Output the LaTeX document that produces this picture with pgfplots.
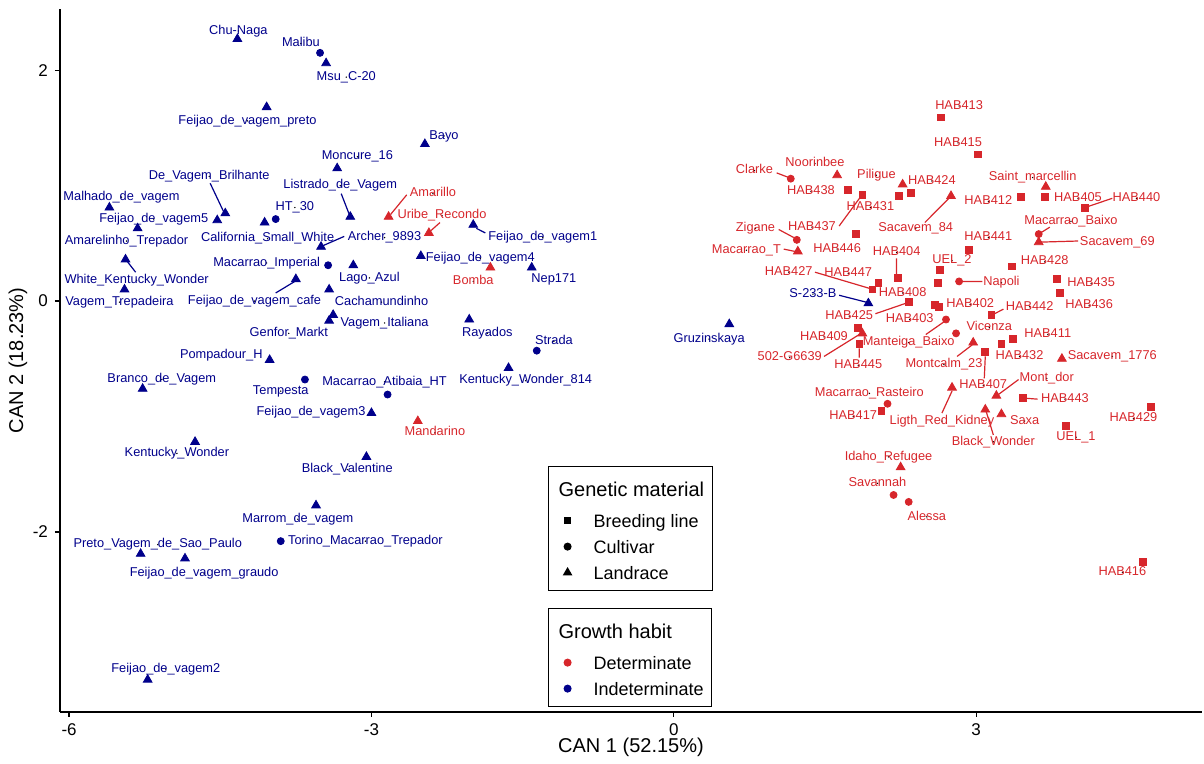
\documentclass[border=0pt]{standalone}
\usepackage{fontspec}
\setmainfont{Liberation Sans}
\usepackage{pgfplots}
\pgfplotsset{compat=1.18}
\definecolor{cred}{RGB}{215,38,43}
\definecolor{cblue}{RGB}{0,0,139}
\pgfplotsset{
  labelstyle/.style={only marks, mark=*, mark size=0.1pt, mark options={draw=none, fill=none},
    nodes near coords, point meta=explicit symbolic,
    nodes near coords style={anchor=center, inner sep=0pt, font=\fontsize{6.4}{7.5}\selectfont,
      text=#1, text height=4.6pt, text depth=1.4pt}},
  leaderstyle/.style={no markers, #1, line width=0.6pt, unbounded coords=jump},
  legstyle/.style={legend cell align=left,
    legend style={at={(0.4273,#1)}, anchor=north west, draw=black, line width=0.6pt, fill=white,
      inner xsep=2pt, inner ysep=2.5pt, font=\fontsize{9}{11}\selectfont,
      nodes={inner xsep=2pt, inner ysep=0pt, minimum height=13pt, text height=6.5pt, text depth=0pt},
      column sep=0pt, row sep=0pt}},
}
\begin{document}
\begin{tikzpicture}
\begin{axis}[
  width=571pt, height=351.5pt, scale only axis,
  xmin=-6.09, xmax=5.24, ymin=-3.56, ymax=2.53,
  axis lines=left, axis line style={-, line width=0.7pt, black},
  xtick={-6,-3,0,3}, ytick={-2,0,2}, minor tick num=0,
  tick align=outside, major tick length=2.5pt,
  every tick/.style={black, line width=0.6pt},
  ticklabel style={font=\fontsize{8.5}{10}\selectfont, text=black},
  /pgf/number format/assume math mode=true,
  xlabel={CAN 1 (52.15\%)}, ylabel={CAN 2 (18.23\%)},
  every axis x label/.style={at={(axis description cs:0.5,-0.0505)}, anchor=center, font=\fontsize{10}{12}\selectfont},
  every axis y label/.style={at={(axis description cs:-0.0368,0.5)}, anchor=center, rotate=90, font=\fontsize{10}{12}\selectfont},
  clip=false,
  legstyle=0.3499,
]
% legend: Genetic material
\addlegendimage{empty legend}
\addlegendentry[font=\fontsize{10}{12}\selectfont, minimum height=18pt, text height=7.2pt]{\hspace*{-17.5pt}Genetic material}
\addlegendimage{legend image code/.code={\path[draw=none,fill=none] (0pt,0pt) (18.5pt,0pt);\draw[black,fill=black,solid] plot[only marks, mark=square*, mark size=1.6pt] coordinates {(7.5pt,0pt)};}}
\addlegendentry{Breeding line}
\addlegendimage{legend image code/.code={\path[draw=none,fill=none] (0pt,0pt) (18.5pt,0pt);\draw[black,fill=black,solid] plot[only marks, mark=*, mark size=1.7pt] coordinates {(7.5pt,0pt)};}}
\addlegendentry{Cultivar}
\addlegendimage{legend image code/.code={\path[draw=none,fill=none] (0pt,0pt) (18.5pt,0pt);\draw[black,fill=black,solid] plot[only marks, mark=triangle*, mark size=2.2pt] coordinates {(7.5pt,0pt)};}}
\addlegendentry{Landrace}

% blue landrace
\addplot[only marks, mark=triangle*, mark size=2.5pt, color=cblue] table {
x y
-4.33 2.27
-3.45 2.06
-4.04 1.68
-2.47 1.36
-3.34 1.15
-4.45 0.76
-5.60 0.81
-4.53 0.70
-5.32 0.63
-4.06 0.68
-3.21 0.73
-3.50 0.47
-1.99 0.66
-5.44 0.36
-2.51 0.39
-3.18 0.31
-1.41 0.29
-5.45 0.10
-3.75 0.19
-3.42 0.10
-3.38 -0.12
-3.42 -0.17
-2.03 -0.16
-4.01 -0.51
-1.64 -0.58
-5.27 -0.76
-3.00 -0.97
-4.75 -1.22
-3.05 -1.35
-3.55 -1.77
-5.29 -2.19
-4.85 -2.23
-5.22 -3.28
1.93 -0.02
0.55 -0.20
};
% blue cultivar
\addplot[only marks, mark=*, mark size=1.75pt, color=cblue] table {
x y
-3.51 2.15
-3.95 0.71
-3.43 0.31
-1.36 -0.43
-3.66 -0.68
-2.84 -0.81
-3.90 -2.08
};
% red landrace
\addplot[only marks, mark=triangle*, mark size=2.5pt, color=cred] table {
x y
-2.83 0.73
-2.43 0.59
-1.82 0.29
-2.54 -1.04
1.62 1.09
2.27 1.01
3.69 0.99
2.75 0.91
3.62 0.51
1.23 0.43
1.87 -0.28
2.97 -0.36
3.85 -0.50
3.20 -0.82
2.76 -0.75
3.09 -0.94
3.25 -0.98
2.25 -1.44
};
% red cultivar
\addplot[only marks, mark=*, mark size=1.75pt, color=cred] table {
x y
1.16 1.06
1.22 0.53
2.83 0.17
3.62 0.58
2.70 -0.16
2.80 -0.28
2.12 -0.89
2.18 -1.68
2.33 -1.74
};
% red breeding lines
\addplot[only marks, mark=square*, mark size=1.7pt, color=cred] table {
x y
2.65 1.59
3.02 1.27
1.73 0.96
1.87 0.92
2.23 0.91
2.35 0.94
3.44 0.90
3.68 0.90
4.08 0.81
1.81 0.58
2.93 0.44
2.64 0.27
2.22 0.20
3.35 0.30
2.03 0.16
1.97 0.10
2.62 0.16
3.80 0.19
3.83 0.07
2.33 -0.01
2.59 -0.03
2.63 -0.05
3.15 -0.12
1.83 -0.23
1.84 -0.37
3.36 -0.33
3.25 -0.37
3.09 -0.44
3.46 -0.84
2.06 -0.95
4.73 -0.92
3.89 -1.08
4.65 -2.26
};
% leader lines
\addplot[leaderstyle=cblue] table {
x y
-4.60 1.02
-4.47 0.78
nan nan
-3.30 0.93
-3.22 0.75
nan nan
-3.27 0.56
-3.48 0.48
nan nan
-1.96 0.63
-1.87 0.59
nan nan
-5.34 0.25
-5.42 0.34
nan nan
-3.95 0.07
-3.76 0.17
nan nan
1.64 0.05
1.91 -0.01
};
\addplot[leaderstyle=cred] table {
x y
-2.65 0.92
-2.81 0.75
nan nan
-2.32 0.68
-2.41 0.61
nan nan
1.02 1.11
1.14 1.07
nan nan
1.04 0.62
1.19 0.55
nan nan
1.09 0.45
1.20 0.43
nan nan
1.64 0.65
1.85 0.90
nan nan
2.49 0.68
2.73 0.89
nan nan
2.21 0.37
2.21 0.23
nan nan
1.40 0.25
1.94 0.11
nan nan
2.00 -0.11
2.30 -0.02
nan nan
1.49 -0.48
1.84 -0.29
nan nan
1.84 -0.49
1.84 -0.41
nan nan
2.50 -0.29
2.68 -0.18
nan nan
2.81 -0.48
2.96 -0.38
nan nan
3.08 -0.67
3.09 -0.48
nan nan
3.42 -0.68
3.22 -0.81
nan nan
2.66 -0.97
2.76 -0.78
nan nan
3.17 -1.16
3.10 -0.96
nan nan
3.46 -0.84
3.61 -0.85
nan nan
2.83 0.17
3.06 0.17
nan nan
3.16 -0.12
3.27 -0.07
nan nan
3.62 0.58
3.73 0.64
nan nan
3.62 0.51
4.01 0.52
nan nan
4.08 0.81
4.35 0.89
};
% labels
\addplot[labelstyle=cblue] table[meta=label] {
x y label
-4.32 2.34 Chu-Naga
-3.70 2.23 Malibu
-3.25 1.94 Msu\_C-20
-4.23 1.56 Feijao\_de\_vagem\_preto
-2.28 1.43 Bayo
-3.14 1.25 Moncure\_16
-4.61 1.08 De\_Vagem\_Brilhante
-5.48 0.90 Malhado\_de\_vagem
-5.16 0.71 Feijao\_de\_vagem5
-3.76 0.81 HT\_30
-4.03 0.54 California\_Small\_White
-3.31 1.00 Listrado\_de\_Vagem
-2.87 0.55 Archer\_9893
-1.30 0.55 Feijao\_de\_vagem1
-5.43 0.52 Amarelinho\_Trepador
-5.33 0.18 White\_Kentucky\_Wonder
-5.50 -0.01 Vagem\_Trepadeira
-4.04 0.33 Macarrao\_Imperial
-1.92 0.37 Feijao\_de\_vagem4
-3.02 0.20 Lago\_Azul
-1.19 0.19 Nep171
-4.16 0.00 Feijao\_de\_vagem\_cafe
-2.90 -0.01 Cachamundinho
-2.87 -0.19 Vagem\_Italiana
-3.82 -0.28 Genfor\_Markt
-1.85 -0.28 Rayados
-1.19 -0.35 Strada
-4.49 -0.47 Pompadour\_H
-1.47 -0.69 Kentucky\_Wonder\_814
-2.87 -0.70 Macarrao\_Atibaia\_HT
-3.90 -0.78 Tempesta
-5.08 -0.68 Branco\_de\_Vagem
-3.60 -0.96 Feijao\_de\_vagem3
-4.93 -1.32 Kentucky\_Wonder
-3.24 -1.46 Black\_Valentine
-3.73 -1.89 Marrom\_de\_vagem
-3.06 -2.08 Torino\_Macarrao\_Trepador
-5.12 -2.11 Preto\_Vagem\_de\_Sao\_Paulo
-4.66 -2.36 Feijao\_de\_vagem\_graudo
-5.04 -3.19 Feijao\_de\_vagem2
0.35 -0.33 Gruzinskaya
1.38 0.06 S-233-B
};
\addplot[labelstyle=cred] table[meta=label] {
x y label
-2.39 0.93 Amarillo
-2.30 0.74 Uribe\_Recondo
-1.99 0.17 Bomba
-2.37 -1.14 Mandarino
2.83 1.69 HAB413
2.82 1.37 HAB415
0.80 1.13 Clarke
1.40 1.19 Noorinbee
2.01 1.09 Piligue
2.56 1.04 HAB424
3.56 1.07 Saint\_marcellin
1.36 0.95 HAB438
1.95 0.81 HAB431
3.12 0.86 HAB412
4.01 0.89 HAB405
4.59 0.89 HAB440
2.40 0.63 Sacavem\_84
3.94 0.69 Macarrao\_Baixo
0.81 0.63 Zigane
1.37 0.64 HAB437
3.12 0.55 HAB441
4.40 0.51 Sacavem\_69
0.72 0.44 Macarrao\_T
1.62 0.45 HAB446
2.21 0.42 HAB404
2.76 0.35 UEL\_2
3.68 0.34 HAB428
1.14 0.25 HAB427
1.73 0.24 HAB447
3.25 0.16 Napoli
4.14 0.15 HAB435
2.27 0.07 HAB408
2.94 -0.03 HAB402
3.53 -0.05 HAB442
4.12 -0.04 HAB436
1.74 -0.13 HAB425
2.34 -0.16 HAB403
1.49 -0.31 HAB409
2.33 -0.36 Manteiga\_Baixo
3.13 -0.23 Vicenza
3.71 -0.29 HAB411
1.15 -0.49 502-G6639
1.83 -0.56 HAB445
2.68 -0.55 Montcalm\_23
3.43 -0.48 HAB432
4.35 -0.48 Sacavem\_1776
3.70 -0.67 Mont\_dor
3.07 -0.73 HAB407
1.94 -0.80 Macarrao\_Rasteiro
3.88 -0.85 HAB443
1.78 -1.00 HAB417
2.66 -1.04 Ligth\_Red\_Kidney
3.48 -1.04 Saxa
4.56 -1.02 HAB429
3.17 -1.22 Black\_Wonder
3.99 -1.18 UEL\_1
2.13 -1.35 Idaho\_Refugee
2.02 -1.58 Savannah
2.51 -1.87 Alessa
4.45 -2.35 HAB416
};
\end{axis}
\begin{axis}[
  width=571pt, height=351.5pt, scale only axis, hide axis,
  xmin=-6.09, xmax=5.24, ymin=-3.56, ymax=2.53,
  legstyle=0.1479,
]
\addlegendimage{empty legend}
\addlegendentry[font=\fontsize{10}{12}\selectfont, minimum height=18pt, text height=7.2pt]{\hspace*{-17.5pt}Growth habit}
\addlegendimage{legend image code/.code={\path[draw=none,fill=none] (0pt,0pt) (18.5pt,0pt);\draw[cred,fill=cred,solid] plot[only marks, mark=*, mark size=1.7pt] coordinates {(7.5pt,0pt)};}}
\addlegendentry{Determinate}
\addlegendimage{legend image code/.code={\path[draw=none,fill=none] (0pt,0pt) (18.5pt,0pt);\draw[cblue,fill=cblue,solid] plot[only marks, mark=*, mark size=1.7pt] coordinates {(7.5pt,0pt)};}}
\addlegendentry{Indeterminate}
\end{axis}
\pgfresetboundingbox
\path ([xshift=-30pt,yshift=-26pt]current axis.south west) rectangle ([xshift=1pt,yshift=4.5pt]current axis.north east);
\end{tikzpicture}
\end{document}
